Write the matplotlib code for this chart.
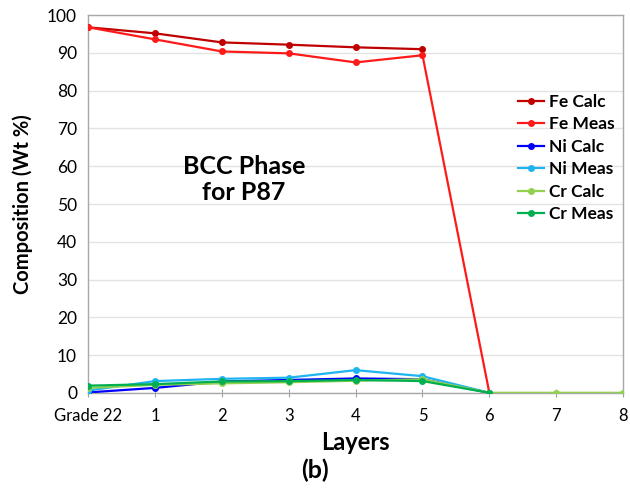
import matplotlib.pyplot as plt
import numpy as np

plt.rcParams["font.family"] = ["Lato", "DejaVu Sans"]

layers = ["Grade 22", "1", "2", "3", "4", "5", "6", "7", "8"]

fe_calc = [96.8, 95.2, 92.8, 92.2, 91.5, 91.0]
fe_meas = [96.8, 93.6, 90.4, 89.9, 87.5, 89.4, 0.0]
ni_calc = [0.1, 1.3, 3.0, 3.4, 3.8, 3.6, 0.0]
ni_meas = [0.6, 3.1, 3.7, 4.0, 6.0, 4.4, 0.0]
cr_calc = [1.3, 2.1, 2.5, 2.8, 3.2, 3.6, 0.0, 0.0, 0.0]
cr_meas = [1.9, 2.3, 3.0, 3.1, 3.4, 3.1, 0.0]

series = [
    ("Fe Calc", fe_calc, "#C00000"),
    ("Fe Meas", fe_meas, "#FF1A1A"),
    ("Ni Calc", ni_calc, "#0000FF"),
    ("Ni Meas", ni_meas, "#1EB4F0"),
    ("Cr Calc", cr_calc, "#92D050"),
    ("Cr Meas", cr_meas, "#00B050"),
]

fig = plt.figure(figsize=(6.3, 4.91), dpi=100)
ax = fig.add_axes([0.14, 0.2, 0.849, 0.769])

for name, vals, col in series:
    x = np.arange(len(vals))
    ax.plot(x, vals, color=col, lw=1.6, marker="o", ms=4, label=name, zorder=3)

ax.set_xlim(0, len(layers) - 1)
ax.set_ylim(0, 100)
ax.set_xticks(np.arange(len(layers)))
ax.set_xticklabels(layers, fontsize=12)
ax.set_yticks(np.arange(0, 101, 10))
ax.tick_params(axis="y", length=0, labelsize=12.5, pad=8)
ax.tick_params(axis="x", direction="inout", length=6, color="#A0A0A0", pad=8)
ax.yaxis.grid(True, color="#E3E3E3", lw=1)
ax.set_axisbelow(True)
for s in ax.spines.values():
    s.set_color("#A8A8A8")
    s.set_linewidth(1)

ax.set_ylabel("Composition (Wt %)", fontsize=14.5, fontweight="bold", labelpad=10)
ax.set_xlabel("Layers", fontsize=17, fontweight="bold", labelpad=5)
fig.text(0.5, 0.042, "(b)", ha="center", va="center", fontsize=18, fontweight="bold")

ax.text(2.33, 56.5, "BCC Phase\nfor P87", ha="center", va="center",
        fontsize=18, fontweight="bold", linespacing=1.2)

leg = ax.legend(loc="upper left", bbox_to_anchor=(0.79, 0.81), frameon=False,
                fontsize=12.5, handlelength=1.5, handletextpad=0.3,
                labelspacing=0.37, borderaxespad=0)
for t in leg.get_texts():
    t.set_fontweight("bold")

fig.savefig("out.png", dpi=100)
